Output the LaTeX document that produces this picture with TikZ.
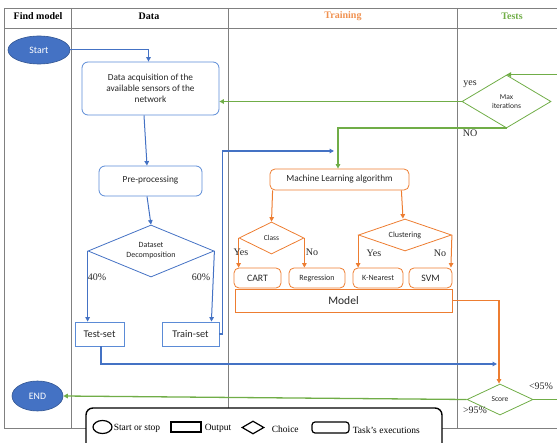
\documentclass[tikz,border=0pt]{standalone}
\usepackage{fontspec}
\setmainfont{Liberation Serif}
\newfontfamily\carl{Carlito}
\usetikzlibrary{arrows.meta,shapes.geometric}
\definecolor{myblue}{HTML}{4472C4}
\definecolor{boxblue}{HTML}{5B8BD6}
\definecolor{myorange}{HTML}{ED7D31}
\definecolor{mygreen}{HTML}{70AD47}
\definecolor{gridgray}{HTML}{808080}
\definecolor{txt}{HTML}{262626}
\tikzset{
  gridline/.style={draw=gridgray, line width=0.7},
  hdr/.style={font=\bfseries\fontsize{10}{12}\selectfont, inner sep=0},
  lbl/.style={font=\fontsize{10}{12}\selectfont, inner sep=0, text=txt},
  legtxt/.style={font=\fontsize{9.5}{11}\selectfont, inner sep=1, right, text=black},
  term/.style={ellipse, fill=myblue, draw=myblue!75!black, line width=0.6, text=white, inner sep=0, font=\carl\fontsize{9.8}{11}\selectfont},
  bbox/.style={rectangle, rounded corners=6, draw=boxblue, line width=0.8, inner sep=0, align=center, text=txt, font=\carl\fontsize{9.3}{11}\selectfont},
  bsq/.style={rectangle, draw=boxblue, line width=0.8, inner sep=0, text=txt, font=\carl\fontsize{10.3}{12}\selectfont},
  bdia/.style={diamond, draw=myblue, line width=0.8, inner sep=0, align=center, text=txt, font=\carl\fontsize{8}{10}\selectfont},
  obox/.style={rectangle, rounded corners=5, draw=myorange, line width=0.8, inner sep=0, align=center, text=txt, font=\carl\fontsize{9.3}{11}\selectfont},
  odia/.style={diamond, draw=myorange, line width=0.8, inner sep=0, align=center, text=txt, font=\carl\fontsize{7.5}{9}\selectfont},
  gdia/.style={diamond, draw=mygreen, line width=0.8, inner sep=0, align=center, text=txt, font=\carl\fontsize{7.5}{9.5}\selectfont},
  tip/.style={-{Triangle[length=4.5pt,width=4.5pt]}},
  barrow/.style={tip, draw=myblue, line width=1},
  bthick/.style={tip, draw=myblue, line width=1.8},
  garrow/.style={tip, draw=mygreen, line width=1.3},
  oarrow/.style={tip, draw=myorange, line width=1},
  othick/.style={tip, draw=myorange, line width=1.6},
}
\begin{document}
\begin{tikzpicture}[x=1pt,y=-1pt]
\useasboundingbox (0,0) rectangle (557,443);
\clip (0,0) rectangle (557,443);

% table
\draw[gridline] (4,8) -- (557,8);
\draw[gridline] (4,28) -- (557,28);
\draw[gridline] (4,428) -- (557,428);
\foreach \xx in {4,71,228,457} \draw[gridline] (\xx,8) -- (\xx,428);

% headers
\node[hdr] (h1) at (38,16) {Find model};
\node[hdr] (h2) at (149,16) {Data};
\node[hdr, text=myorange!85!white] (h3) at (343,16) {Training};
\node[hdr, text=mygreen] (h4) at (512,16) {Tests};

% nodes
\node[term, minimum width=62, minimum height=28] (start) at (39,50) {Start};
\node[term, minimum width=51, minimum height=30] (endn) at (37.5,396) {END};
\node[bbox, minimum width=137, minimum height=53] (acq) at (150.5,88.5) {Data acquisition of the\\available sensors of the\\network};
\node[bbox, minimum width=103, minimum height=30] (pre) at (150.5,181) {\raisebox{4pt}{Pre-processing}};
\node[bdia, aspect=2.4, minimum width=126, minimum height=52] (dd) at (151,251) {Dataset\\Decomposition};
\node[bsq, minimum width=49, minimum height=24] (test) at (99.5,334) {Test-set};
\node[bsq, minimum width=57, minimum height=24] (train) at (190.5,334) {Train-set};

\node[obox, minimum width=139, minimum height=21] (ml) at (339.5,179.5) {Machine Learning algorithm};
\node[odia, aspect=2, minimum width=65, minimum height=32] (class) at (271.5,238) {Class};
\node[odia, aspect=2.9, minimum width=93, minimum height=32, font=\carl\fontsize{8}{9.5}\selectfont] (clus) at (405,235) {Clustering};
\node[obox, minimum width=47, minimum height=20, font=\carl\fontsize{9.8}{11}\selectfont] (cart) at (257.5,278) {CART};
\node[obox, minimum width=56, minimum height=20, font=\carl\fontsize{8}{9.5}\selectfont] (reg) at (317,278) {Regression};
\node[obox, minimum width=50, minimum height=20, font=\carl\fontsize{8}{9.5}\selectfont] (knn) at (378,278) {K-Nearest};
\node[obox, minimum width=43, minimum height=20, font=\carl\fontsize{9.8}{11}\selectfont] (svm) at (430.5,278) {SVM};
\node[rectangle, draw=myorange, line width=0.8, minimum width=217, minimum height=23, inner sep=0, text=txt, font=\carl\fontsize{11.5}{13}\selectfont] (model) at (343.5,300.5) {Model};

\node[gdia, aspect=1.7, minimum width=89, minimum height=53] (maxit) at (506.5,101.5) {Max\\iterations};
\node[gdia, aspect=2.1, minimum width=66, minimum height=31] (score) at (500,399.5) {Score};

% blue connectors
\draw[barrow] (start.east) -| ([xshift=-2]acq.north);
\draw[barrow] ([xshift=-6.5]acq.south) -- ([xshift=-3.5]pre.north);
\draw[barrow] ([xshift=-3.5]pre.south) -- (dd.north);
\draw[barrow] (dd.west) -- (dd.west |- test.north);
\draw[barrow] (dd.east) -- ([xshift=-8]train.north east);
\node[lbl] (p40) at (97,277) {40\%};
\node[lbl] (p60) at (201,277) {60\%};
\coordinate (bt) at (334,151);
\draw[bthick] (train.east) -- ++(3,0) |- (bt);
\coordinate (tt) at (497,364);
\draw[bthick] ([xshift=1.5]test.south) |- (tt);

% green connectors
\draw[garrow] (maxit.west) -- (maxit.west -| acq.east);
\draw[garrow, line width=1.8] (maxit.south) -| ([xshift=-1.5]ml.north);
\draw[garrow] (score.east) -- ++(45,0) |- (maxit.north);
\draw[garrow] (score.west) -- (endn.east);
\node[lbl] (yes) at (470,84) {yes};
\node[lbl] (no) at (470,133) {NO};
\node[lbl] (lt95) at (541,386) {<95\%};
\node[lbl] (gt95) at (475,410) {>95\%};

% orange connectors
\draw[oarrow] ([xshift=3]ml.south west) -- (class.north);
\draw[oarrow] ([xshift=-8]ml.south east) -- ([xshift=-2]clus.north);
\draw[oarrow] (class.west) -- (class.west |- cart.north);
\draw[oarrow] (class.east) -- (class.east |- reg.north);
\draw[oarrow] (clus.west) -- (clus.west |- knn.north);
\draw[oarrow] (clus.east) -- ([xshift=-1]clus.east |- svm.north);
\draw[othick] (model.east) -| ([xshift=-1]score.north);
\node[lbl] (y1) at (241,252) {Yes};
\node[lbl] (n1) at (312,252) {No};
\node[lbl] (y2) at (374,253) {Yes};
\node[lbl] (n2) at (440,253) {No};

% legend
\node[draw=black, line width=1.4, rounded corners=7, fill=white, minimum width=356, minimum height=42, inner sep=0] (leg) at (264,429) {};
\node[draw=black, ellipse, line width=1.2, minimum width=19, minimum height=13, inner sep=0] (lc) at (102.5,427) {};
\node[legtxt] (lct) at ([yshift=-1.5]lc.east) {Start or stop};
\node[draw=black, rectangle, line width=1.2, minimum width=30, minimum height=10, inner sep=0] (lr) at (186,427) {};
\node[legtxt] (lrt) at ([xshift=2,yshift=-1.5]lr.east) {Output};
\node[draw=black, diamond, aspect=1.7, line width=1.2, minimum width=22, minimum height=13, inner sep=0] (ld) at (253,427.5) {};
\node[legtxt] (ldt) at ([xshift=6,yshift=-2]ld.east) {Choice};
\node[draw=black, rectangle, rounded corners=3, line width=1.2, minimum width=37, minimum height=11, inner sep=0] (ltk) at (330.5,427.5) {};
\node[legtxt] (ltt) at ([xshift=2,yshift=-2.5]ltk.east) {Task's executions};
\end{tikzpicture}
\end{document}
